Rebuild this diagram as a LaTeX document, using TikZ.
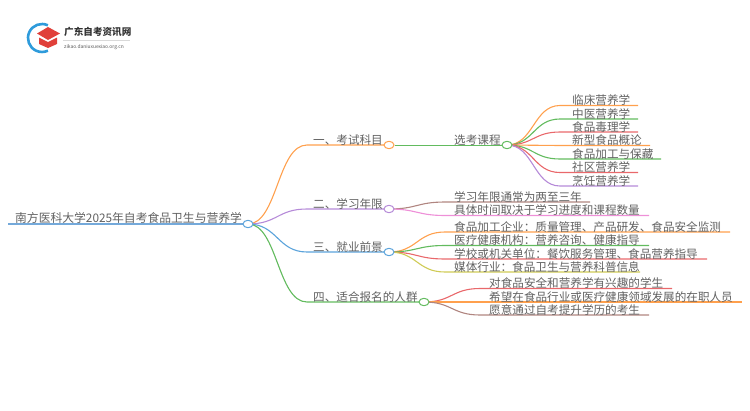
\documentclass[tikz,border=0pt]{standalone}
\usepackage{fontspec}
\setmainfont{Noto Sans CJK SC}
\usetikzlibrary{shapes.geometric,calc,backgrounds}
\definecolor{cOrange}{HTML}{FFA04D}
\definecolor{cGreen}{HTML}{62BB5E}
\definecolor{cRed}{HTML}{E9686B}
\definecolor{cPurple}{HTML}{B58AD8}
\definecolor{cBlue}{HTML}{5BA3DB}
\definecolor{cBrown}{HTML}{B08580}
\definecolor{cPink}{HTML}{EE90D8}
\definecolor{cYellow}{HTML}{CFCB55}
\definecolor{cRoot}{HTML}{74A9DA}
\definecolor{cLogoBlue}{HTML}{2E9BDB}
\definecolor{cLogoRed}{HTML}{E0403A}
\tikzset{
  x=1pt,y=-1pt,
  lbl/.style={anchor=base west,inner sep=0pt,text=black!62,font=\fontsize{11.6pt}{12pt}\selectfont},
  rootlbl/.style={lbl,font=\fontsize{11.8pt}{12pt}\selectfont},
  hub/.style={ellipse,draw,fill=white,line width=1pt,minimum width=10pt,minimum height=7.4pt,inner sep=0pt},
  conn/.style={line width=1.1pt},
}
% #1 colour, #2 from node, #3 curve end, #4 line end
\newcommand{\linkto}[4]{%
  \coordinate (tmpm) at ($(#2.center)!.5!(#3)$);
  \draw[conn,#1] (#2.center) .. controls (tmpm|-#2.center) and (tmpm|-#3) .. (#3) -- (#4);}
\begin{document}
\begin{tikzpicture}
\useasboundingbox (0,0) rectangle (750,410);
% logo
\draw[cLogoBlue,line width=2.6pt] (47.9,25.3) arc[start angle=-65,end angle=-295,radius=14];
\fill[cLogoRed] (48,27) -- (60,33.5) -- (48,40) -- (37,33.5) -- cycle;
\fill[cLogoRed] (39,37.5) -- (48,42) -- (57,37.5) -- (57,44) -- (48,48) -- (39,44) -- cycle;
\node[anchor=base west,inner sep=0pt,text=black!80,font=\fontsize{9.6pt}{10pt}\selectfont\bfseries] (logot) at (64,35) {广东自考资讯网};
\draw[black!15,line width=.4pt] (63,40) -- (130,40);
\node[anchor=base west,inner sep=0pt,text=black!65,font=\fontsize{4.9pt}{5pt}\selectfont] (logou) at (64,48) {zikao.daniuxuexiao.org.cn};
% hubs
\coordinate (rootL) at (8,224);
\node[hub,draw=cBlue] (root) at (248,224) {};
\node[hub,draw=cOrange] (a) at (389,145) {};
\node[hub,draw=cPurple] (b) at (389,209) {};
\node[hub,draw=cBlue] (c) at (389,252) {};
\node[hub,draw=cGreen] (d) at (424,302) {};
\node[hub,draw=cGreen] (a1) at (507,145) {};
% curve end coordinates
\foreach \n/\x/\y/\ex in {ac/307/145/385,bc/307/209/385,cc/307/252/385,dc/307/302/420,
  m1/560/105.5/638,m2/560/119/638,m3/560/132/638,m4/560/145.5/650,m5/560/159/661,m6/560/172.5/638,m7/560/186/638,
  n1/445/202/590,n2/445/215.5/649,
  o1/445/232/730,o2/445/245.5/649,o3/445/259/707,o4/445/272/640,
  p1/480/288.5/672,p2/480/302/742,p3/480/315/649}{
  \coordinate (\n) at (\x,\y);
  \coordinate (\n e) at (\ex,\y);
}
\begin{scope}[on background layer]
\draw[cRoot,line width=1.8pt] (rootL) -- (root);
\linkto{cOrange}{root}{ac}{ace}
\linkto{cPurple}{root}{bc}{bce}
\linkto{cBlue}{root}{cc}{cce}
\linkto{cGreen}{root}{dc}{dce}
\draw[cGreen,line width=.9pt] (a) -- (a1);
\linkto{cOrange}{a1}{m1}{m1e}
\linkto{cGreen}{a1}{m2}{m2e}
\linkto{cRed}{a1}{m3}{m3e}
\linkto{cOrange}{a1}{m4}{m4e}
\linkto{cGreen}{a1}{m5}{m5e}
\linkto{cRed}{a1}{m6}{m6e}
\linkto{cPurple}{a1}{m7}{m7e}
\linkto{cBrown}{b}{n1}{n1e}
\linkto{cPink}{b}{n2}{n2e}
\linkto{cOrange}{c}{o1}{o1e}
\linkto{cGreen}{c}{o2}{o2e}
\linkto{cRed}{c}{o3}{o3e}
\linkto{cYellow}{c}{o4}{o4e}
\linkto{cRed}{d}{p1}{p1e}
\linkto{cOrange}{d}{p2}{p2e}
\linkto{cBrown}{d}{p3}{p3e}
\end{scope}
% labels
\node[rootlbl] (t0) at (15,222.5) {南方医科大学2025年自考食品卫生与营养学};
\node[lbl] (t1) at (313,144) {一、考试科目};
\node[lbl] (t2) at (313,208) {二、学习年限};
\node[lbl] (t3) at (313,251) {三、就业前景};
\node[lbl] (t4) at (313,301) {四、适合报名的人群};
\node[lbl] (t11) at (454,144) {选考课程};
\node[lbl] (m1t) at (572,104) {临床营养学};
\node[lbl] (m2t) at (572,118) {中医营养学};
\node[lbl] (m3t) at (572,131) {食品毒理学};
\node[lbl] (m4t) at (572,144.5) {新型食品概论};
\node[lbl] (m5t) at (572,158) {食品加工与保藏};
\node[lbl] (m6t) at (572,171.5) {社区营养学};
\node[lbl] (m7t) at (572,185) {烹饪营养学};
\node[lbl] (n1t) at (454,201) {学习年限通常为两至三年};
\node[lbl] (n2t) at (454,214.5) {具体时间取决于学习进度和课程数量};
\node[lbl] (o1t) at (454,231) {食品加工企业：质量管理、产品研发、食品安全监测};
\node[lbl] (o2t) at (454,244.5) {医疗健康机构：营养咨询、健康指导};
\node[lbl] (o3t) at (454,258) {学校或机关单位：餐饮服务管理、食品营养指导};
\node[lbl] (o4t) at (454,271) {媒体行业：食品卫生与营养科普信息};
\node[lbl] (p1t) at (489,287.5) {对食品安全和营养学有兴趣的学生};
\node[lbl] (p2t) at (489,301) {希望在食品行业或医疗健康领域发展的在职人员};
\node[lbl] (p3t) at (489,314) {愿意通过自考提升学历的考生};
\end{tikzpicture}
\end{document}
